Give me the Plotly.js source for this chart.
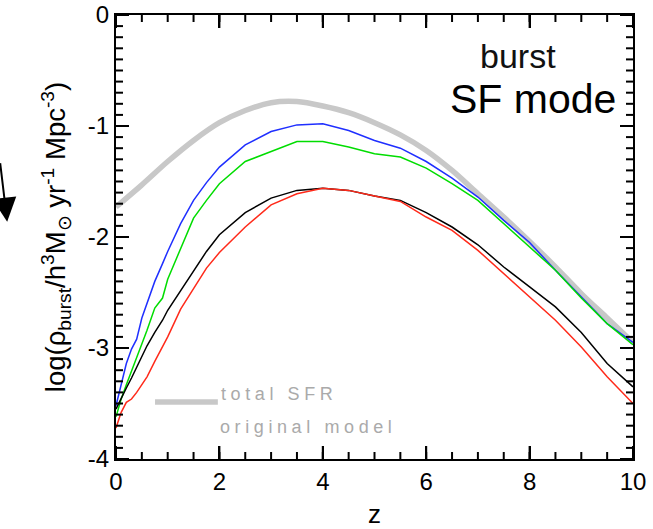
<!DOCTYPE html>
<html>
<head>
<meta charset="utf-8">
<script src="https://cdn.plot.ly/plotly-3.0.1.min.js"></script>
<style>
  html, body { margin: 0; padding: 0; background: #fff; }
  #chart { width: 653px; height: 529px; }
  text[data-unformatted^="total"], text[data-unformatted^="original"] { letter-spacing: 4.6px; }
</style>
</head>
<body>
<div id="chart"></div>
<script>
// redshift grid for the burst-mode curves
const z = [0, 0.1, 0.2, 0.3, 0.4, 0.5, 0.6, 0.75, 0.9, 1.0, 1.25, 1.5, 1.75, 2, 2.5, 3, 3.5, 4, 4.5, 5, 5.5, 6, 6.5, 7, 7.5, 8, 8.5, 9, 9.5, 10];
const blueVals  = [-3.52, -3.33, -3.14, -3.01, -2.92, -2.73, -2.60, -2.40, -2.24, -2.13, -1.88, -1.67, -1.51, -1.37, -1.17, -1.05, -0.99, -0.98, -1.04, -1.13, -1.20, -1.32, -1.47, -1.64, -1.85, -2.05, -2.30, -2.54, -2.78, -2.95];
const greenVals = [-3.62, -3.46, -3.33, -3.21, -3.08, -2.96, -2.84, -2.64, -2.55, -2.38, -2.11, -1.83, -1.67, -1.52, -1.32, -1.23, -1.14, -1.14, -1.19, -1.25, -1.28, -1.38, -1.52, -1.67, -1.88, -2.09, -2.30, -2.55, -2.78, -2.97];
const blackVals = [-3.55, -3.45, -3.36, -3.27, -3.17, -3.07, -2.98, -2.86, -2.75, -2.66, -2.48, -2.30, -2.13, -1.98, -1.78, -1.65, -1.58, -1.56, -1.58, -1.63, -1.67, -1.78, -1.91, -2.07, -2.27, -2.45, -2.63, -2.86, -3.14, -3.35];
const redVals   = [-3.72, -3.58, -3.49, -3.46, -3.40, -3.33, -3.26, -3.12, -2.99, -2.90, -2.65, -2.46, -2.28, -2.14, -1.91, -1.71, -1.61, -1.56, -1.58, -1.63, -1.68, -1.82, -1.94, -2.12, -2.33, -2.54, -2.75, -2.99, -3.26, -3.50];

// total SFR, original model (thick grey)
const zTotal = [0, 0.5, 1, 1.5, 2, 2.5, 3, 3.5, 4, 4.5, 5, 5.5, 6, 6.5, 7, 7.5, 8, 8.5, 9, 9.5, 10];
const totalVals = [-1.73, -1.53, -1.32, -1.13, -0.97, -0.86, -0.79, -0.78, -0.82, -0.88, -0.97, -1.08, -1.22, -1.40, -1.61, -1.82, -2.04, -2.27, -2.51, -2.73, -2.95];

// tick labels
const xTickLabels = ['0', '2', '4', '6', '8', '10'];
const yTickLabels = ['-4', '-3', '-2', '-1', '0'];
const xMinorStep = 0.5;
const yMinorStep = 0.1;

const FONT = 'Liberation Sans, Arial, Helvetica, sans-serif';
const xRange = [0, 10], yRange = [-4, 0];
const PLOT_W = 517, PLOT_H = 444;

const traces = [
  {x: zTotal, y: totalVals, mode: 'lines', line: {color: '#c8c8c8', width: 5.5, shape: 'spline', smoothing: 0.8}, name: 'total SFR original model'},
  {x: z, y: blueVals,  mode: 'lines', line: {color: '#1f2fff', width: 1.5}},
  {x: z, y: greenVals, mode: 'lines', line: {color: '#00dd00', width: 1.5}},
  {x: z, y: blackVals, mode: 'lines', line: {color: '#000000', width: 1.5}},
  {x: z, y: redVals,   mode: 'lines', line: {color: '#ff2a1a', width: 1.5}}
];

// inside tick marks on all four sides of the frame, placed through the axis scales
function frameTicks() {
  const out = [];
  const tick = {type: 'line', layer: 'above', line: {color: '#000', width: 2}};
  const xMaj = xTickLabels.map(Number), yMaj = yTickLabels.map(Number);
  const xMin = [], yMin = [];
  for (let v = xRange[0]; v <= xRange[1] + 1e-9; v += xMinorStep) xMin.push(+v.toFixed(3));
  for (let v = yRange[0]; v <= yRange[1] + 1e-9; v += yMinorStep) yMin.push(+v.toFixed(3));
  function xt(v, len) {
    const h = len / PLOT_H;
    out.push(Object.assign({}, tick, {xref: 'x', yref: 'paper', x0: v, x1: v, y0: 0, y1: h}));
    out.push(Object.assign({}, tick, {xref: 'x', yref: 'paper', x0: v, x1: v, y0: 1, y1: 1 - h}));
  }
  function yt(v, len) {
    const w = len / PLOT_W;
    out.push(Object.assign({}, tick, {xref: 'paper', yref: 'y', y0: v, y1: v, x0: 0, x1: w}));
    out.push(Object.assign({}, tick, {xref: 'paper', yref: 'y', y0: v, y1: v, x0: 1, x1: 1 - w}));
  }
  xMin.forEach(v => xt(v, 7));
  xMaj.forEach(v => xt(v, 13));
  yMin.forEach(v => yt(v, 7));
  yMaj.forEach(v => yt(v, 13));
  return out;
}

const mainAx = {showgrid: false, zeroline: false, showline: true, linecolor: 'black', linewidth: 2, mirror: 'ticks', ticks: 'inside', ticklen: 13, tickwidth: 2, tickcolor: 'black'};

const layout = {
  width: 653, height: 529,
  showlegend: false,
  margin: {l: 116, r: 20, t: 15, b: 70},
  paper_bgcolor: '#fff', plot_bgcolor: '#fff',
  font: {family: FONT, color: '#000'},
  xaxis: Object.assign({}, mainAx, {
    range: xRange, tickmode: 'array', tickvals: xTickLabels.map(Number), ticktext: xTickLabels,
    tickfont: {family: FONT, size: 24, color: '#000'},
    title: {text: 'z', font: {family: FONT, size: 26}, standoff: 22}
  }),
  yaxis: Object.assign({}, mainAx, {
    range: yRange, tickmode: 'array', tickvals: yTickLabels.map(Number), ticktext: yTickLabels,
    tickfont: {family: FONT, size: 24, color: '#000'},
    title: {text: 'log(ρ<sub>burst</sub>/h<sup>3</sup>M<sub>⊙</sub> yr<sup>-1</sup> Mpc<sup>-3</sup>)', font: {family: FONT, size: 27.5}, standoff: 14}
  }),
  shapes: [
    {type: 'line', xref: 'paper', yref: 'paper', x0: 0.0755, x1: 0.197, y0: 0.1284, y1: 0.1284, line: {color: '#c8c8c8', width: 5.5}}
  ].concat(frameTicks()),
  annotations: [
    {xref: 'paper', yref: 'paper', x: 0.778, y: 0.908, text: 'burst', showarrow: false, xanchor: 'center', yanchor: 'middle', font: {family: FONT, size: 34, color: '#111'}},
    {xref: 'paper', yref: 'paper', x: 0.971, y: 0.811, text: 'SF mode', showarrow: false, xanchor: 'right', yanchor: 'middle', font: {family: FONT, size: 41, color: '#000'}},
    {xref: 'paper', yref: 'paper', x: 0.199, y: 0.146, text: 'total SFR', showarrow: false, xanchor: 'left', yanchor: 'middle', font: {family: FONT, size: 18, color: '#aaaaaa'}},
    {xref: 'paper', yref: 'paper', x: 0.197, y: 0.072, text: 'original model', showarrow: false, xanchor: 'left', yanchor: 'middle', font: {family: FONT, size: 18, color: '#aaaaaa'}},
    {xref: 'paper', yref: 'paper', x: -0.2105, y: 0.5345, text: '', showarrow: true, arrowhead: 2, arrowsize: 2.4, arrowwidth: 2, arrowcolor: '#000', ax: -50, ay: -60}
  ]
};

Plotly.newPlot('chart', traces, layout, {displayModeBar: false});
</script>
</body>
</html>
